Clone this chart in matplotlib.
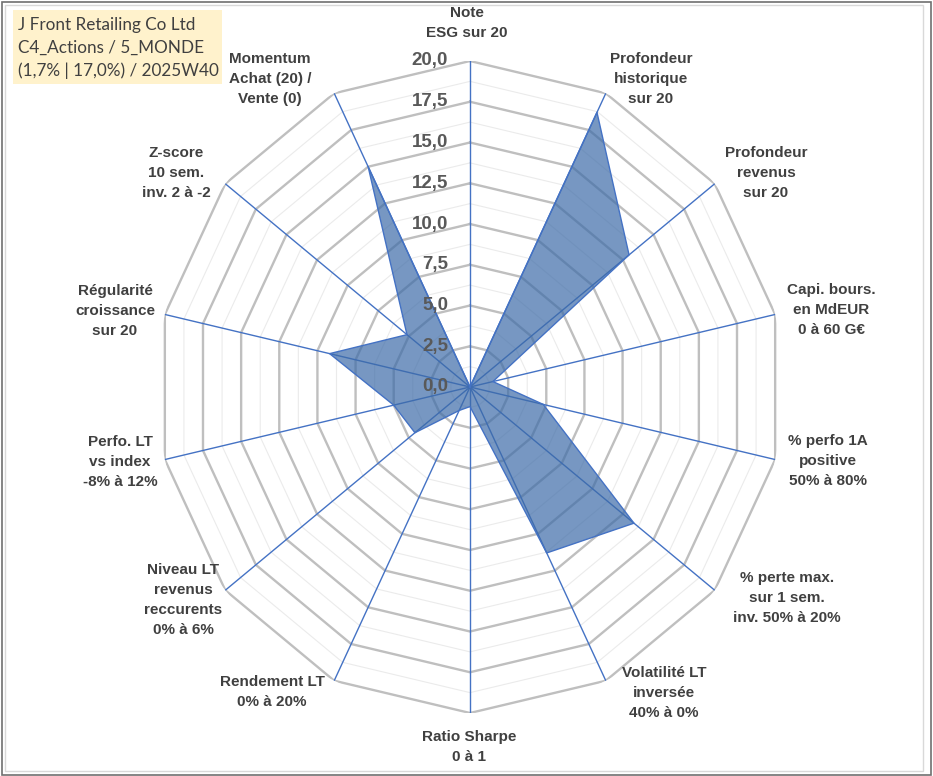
import numpy as np
import matplotlib.pyplot as plt
from matplotlib.patches import Rectangle

# axes of the radar, clockwise from the top
criteres = [
    "Note\nESG sur 20",
    "Profondeur\nhistorique\nsur 20",
    "Profondeur\nrevenus\nsur 20",
    "Capi. bours.\nen MdEUR\n0 à 60 G€",
    "% perfo 1A\npositive\n50% à 80%",
    "% perte max.\nsur 1 sem.\ninv. 50% à 20%",
    "Volatilité LT\ninversée\n40% à 0%",
    "Ratio Sharpe\n0 à 1",
    "Rendement LT\n0% à 20%",
    "Niveau LT\nrevenus\nreccurents\n0% à 6%",
    "Perfo. LT\nvs index\n-8% à 12%",
    "Régularité\ncroissance\nsur 20",
    "Z-score\n10 sem.\ninv. 2 à -2",
    "Momentum\nAchat (20) /\nVente (0)",
]
notes = [0.0, 18.7, 13.0, 1.5, 4.8, 13.4, 11.3, 1.2, 1.6, 4.5, 5.0, 9.2, 5.15, 15.0]
graduations = [0.0, 2.5, 5.0, 7.5, 10.0, 12.5, 15.0, 17.5, 20.0]
titre = "J Front Retailing Co Ltd\nC4_Actions / 5_MONDE\n(1,7% | 17,0%) / 2025W40"

# label centres in pixels (layout only)
pos_labels = [(467, 23), (651, 79), (766, 173), (831, 310), (828, 461), (787, 598),
              (664, 693), (469, 747), (272, 692), (183, 600), (120, 462), (115, 311),
              (176, 173), (270, 79)]

W, H = 933, 776
fig = plt.figure(figsize=(W / 100, H / 100), dpi=100)

cx, cy, rx, ry = 470, 387, 313, 326
ax = fig.add_axes([(cx - rx) / W, (H - cy - ry) / H, 2 * rx / W, 2 * ry / H], projection="polar")
ax.set_aspect("auto")
ax.set_theta_zero_location("N")
ax.set_theta_direction(-1)
ax.set_ylim(0, 20)
ax.grid(False)
ax.set_xticks([])
ax.set_yticks([])
ax.spines["polar"].set_visible(False)
ax.patch.set_alpha(0)

n = len(criteres)
angles = np.linspace(0, 2 * np.pi, n, endpoint=False)
boucle = np.append(angles, angles[0])

# polygon grid
for g in np.arange(1.25, 20.01, 1.25):
    majeur = abs(g / 2.5 - round(g / 2.5)) < 1e-6
    ax.plot(boucle, [g] * (n + 1),
            color="#BFBFBF" if majeur else "#EBEBEB",
            lw=1.7 if majeur else 0.8, zorder=1)

for a in angles:
    ax.plot([a, a], [0, 20], color="#4472C4", lw=1.0, zorder=2)

vals = notes + [notes[0]]
ax.fill(boucle, vals, color="#3D6BA8", alpha=0.7, zorder=3, lw=0)
ax.plot(boucle, vals, color="#4472C4", lw=1.0, zorder=4)

for g in graduations:
    ax.annotate(f"{g:.1f}".replace(".", ","), xy=(0, g), xytext=(-22, 0),
                textcoords="offset pixels", ha="right", va="center",
                fontsize=13.5, fontweight="bold", color="#595959",
                family="Liberation Sans", zorder=5, annotation_clip=False)

for lab, (x, y) in zip(criteres, pos_labels):
    fig.text(x / W, 1 - y / H, lab, ha="center", va="center", fontsize=11,
             fontweight="bold", color="#404040", family="Liberation Sans",
             linespacing=1.55)

# title box
fig.patches.append(Rectangle((13 / W, 1 - 84 / H), 209 / W, 74 / H,
                             transform=fig.transFigure, facecolor="#FFF2CC",
                             edgecolor="none", zorder=0))
fig.text(18 / W, 1 - 48 / H, titre, ha="left", va="center", fontsize=12.3,
         color="#404040", family="Lato", linespacing=1.5)

# chart borders
fig.patches.append(Rectangle((5 / W, 5 / H), 918 / W, 766 / H, transform=fig.transFigure,
                             facecolor="none", edgecolor="#D9D9D9", lw=1.0))
fig.patches.append(Rectangle((1.5 / W, 1.5 / H), 929 / W, 773 / H, transform=fig.transFigure,
                             facecolor="none", edgecolor="#707070", lw=1.2))

fig.savefig("out.png", dpi=100)
